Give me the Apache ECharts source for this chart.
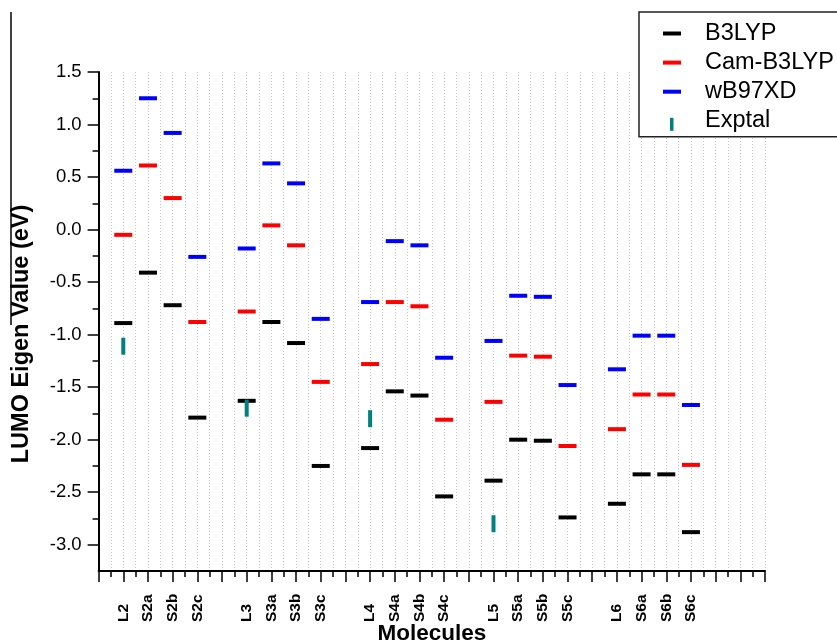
<!DOCTYPE html>
<html>
<head>
<meta charset="utf-8">
<title>LUMO Eigen Values</title>
<script src="https://cdn.jsdelivr.net/npm/echarts@6/dist/echarts.min.js"></script>
<style>
  html, body { margin: 0; padding: 0; background: #fff; }
  #chart { width: 837px; height: 644px; }
</style>
</head>
<body>
<div id="chart"></div>
<script>
// Molecules, in plotting order (four per family, a blank slot between families)
const molecules = ['L2', 'S2a', 'S2b', 'S2c',
                   'L3', 'S3a', 'S3b', 'S3c',
                   'L4', 'S4a', 'S4b', 'S4c',
                   'L5', 'S5a', 'S5b', 'S5c',
                   'L6', 'S6a', 'S6b', 'S6c'];

// LUMO eigen values (eV) per method
const b3lyp    = [-0.89, -0.41, -0.72, -1.79,
                  -1.63, -0.88, -1.08, -2.25,
                  -2.08, -1.54, -1.58, -2.54,
                  -2.39, -2.00, -2.01, -2.74,
                  -2.61, -2.33, -2.33, -2.88];
const camB3lyp = [-0.05, 0.61, 0.30, -0.88,
                  -0.78, 0.04, -0.15, -1.45,
                  -1.28, -0.69, -0.73, -1.81,
                  -1.64, -1.20, -1.21, -2.06,
                  -1.90, -1.57, -1.57, -2.24];
const wb97xd   = [0.56, 1.25, 0.92, -0.26,
                  -0.18, 0.63, 0.44, -0.85,
                  -0.69, -0.11, -0.15, -1.22,
                  -1.06, -0.63, -0.64, -1.48,
                  -1.33, -1.01, -1.01, -1.67];
const exptal   = [-1.11, null, null, null,
                  -1.70, null, null, null,
                  -1.80, null, null, null,
                  -2.80, null, null, null,
                  null, null, null, null];

// Y axis tick labels
const yTicks = [1.5, 1.0, 0.5, 0.0, -0.5, -1.0, -1.5, -2.0, -2.5, -3.0];
const yMinorTicks = [1.25, 0.75, 0.25, -0.25, -0.75, -1.25, -1.75, -2.25, -2.75];

// x position of each molecule: families of four, separated by one empty slot
const xPos = molecules.map((m, i) => 1 + Math.floor(i / 4) * 5 + (i % 4));
const nameAt = {};
xPos.forEach((p, i) => { nameAt[p] = molecules[i]; });

function pairs(values) {
  const out = [];
  values.forEach((v, i) => { if (v !== null) out.push([xPos[i], v]); });
  return out;
}

const FONT = 'Liberation Sans, Arial, sans-serif';
const DASH = [18, 4];

const chart = echarts.init(document.getElementById('chart'), null, { renderer: 'canvas' });

chart.setOption({
  animation: false,
  backgroundColor: '#fff',
  grid: { left: 98.6, right: 72, top: 72, bottom: 73, containLabel: false, outerBoundsMode: 'none' },
  xAxis: {
    type: 'value',
    min: 0,
    max: 27,
    interval: 1,
    name: 'Molecules',
    nameLocation: 'middle',
    nameGap: 51,
    nameMoveOverlap: false,
    nameTextStyle: { fontFamily: FONT, fontWeight: 'bold', fontSize: 22.5, color: '#000' },
    axisLine: { show: true, onZero: false, lineStyle: { color: '#000', width: 2 } },
    axisTick: { show: true, inside: false, length: 11, lineStyle: { color: '#000', width: 1.5 } },
    minorTick: { show: true, splitNumber: 2, length: 6, lineStyle: { color: '#000', width: 1.5 } },
    axisLabel: {
      customValues: xPos,
      rotate: 90,
      align: 'left',
      margin: 51,
      fontFamily: FONT,
      fontWeight: 'bold',
      fontSize: 15.5,
      color: '#000',
      formatter: v => nameAt[v] || ''
    },
    splitLine: { show: true, lineStyle: { color: '#c4c4c4', width: 1, type: [1, 2] } },
    minorSplitLine: { show: true, lineStyle: { color: '#c4c4c4', width: 1, type: [1, 2] } }
  },
  yAxis: [{
    type: 'value',
    min: -3.25,
    max: 1.5,
    name: '',
    axisLine: { show: true, onZero: false, lineStyle: { color: '#000', width: 2 } },
    axisTick: { show: true, inside: false, length: 11, customValues: yTicks, lineStyle: { color: '#000', width: 1.5 } },
    axisLabel: {
      customValues: yTicks,
      margin: 17,
      fontFamily: FONT,
      fontSize: 18.5,
      color: '#000',
      formatter: v => v.toFixed(1)
    },
    splitLine: { show: false }
  }, {
    // minor ticks between the labelled values
    type: 'value',
    min: -3.25,
    max: 1.5,
    position: 'left',
    axisLine: { show: false },
    axisTick: { show: true, inside: false, length: 6, customValues: yMinorTicks, lineStyle: { color: '#000', width: 1.5 } },
    axisLabel: { show: false },
    splitLine: { show: false }
  }],
  legend: {
    orient: 'vertical',
    left: 639,
    top: 12,
    padding: [9.5, 10, 4, 24],
    itemGap: 5.1,
    itemWidth: 37,
    itemHeight: 23,
    selectedMode: false,
    borderColor: '#222',
    borderWidth: 1.5,
    backgroundColor: '#fff',
    textStyle: { fontFamily: FONT, fontSize: 23.5, lineHeight: 23, color: '#000', padding: 0 },
    data: [
      { name: 'B3LYP',     icon: 'path://M0,0M37,23M0,9.5h18v4h-18z' },
      { name: 'Cam-B3LYP', icon: 'path://M0,0M37,23M0,9.5h18v4h-18z' },
      { name: 'wB97XD',    icon: 'path://M0,0M37,23M0,9.5h18v4h-18z' },
      { name: 'Exptal',    icon: 'path://M0,0M37,23M7,8.5h3.5v13h-3.5z' }
    ]
  },
  graphic: [
    {
      type: 'line',
      shape: { x1: 11, y1: 12, x2: 11, y2: 325 },
      style: { stroke: '#000', lineWidth: 1.5 }
    },
    {
      type: 'text',
      x: 22,
      y: 334,
      rotation: Math.PI / 2,
      style: {
        text: 'LUMO Eigen Value (eV)',
        fontFamily: FONT,
        fontWeight: 'bold',
        fontSize: 23.5,
        fill: '#000',
        align: 'center',
        verticalAlign: 'middle'
      }
    }
  ],
  series: [
    { name: 'B3LYP', type: 'scatter', symbol: 'rect', symbolSize: DASH,
      itemStyle: { color: '#000000', opacity: 1 }, data: pairs(b3lyp) },
    { name: 'Cam-B3LYP', type: 'scatter', symbol: 'rect', symbolSize: DASH,
      itemStyle: { color: '#ff0000', opacity: 1 }, data: pairs(camB3lyp) },
    { name: 'wB97XD', type: 'scatter', symbol: 'rect', symbolSize: DASH,
      itemStyle: { color: '#0000ff', opacity: 1 }, data: pairs(wb97xd) },
    { name: 'Exptal', type: 'scatter', symbol: 'rect', symbolSize: [4, 17],
      itemStyle: { color: '#008080', opacity: 1 }, data: pairs(exptal) }
  ]
});
</script>
</body>
</html>
